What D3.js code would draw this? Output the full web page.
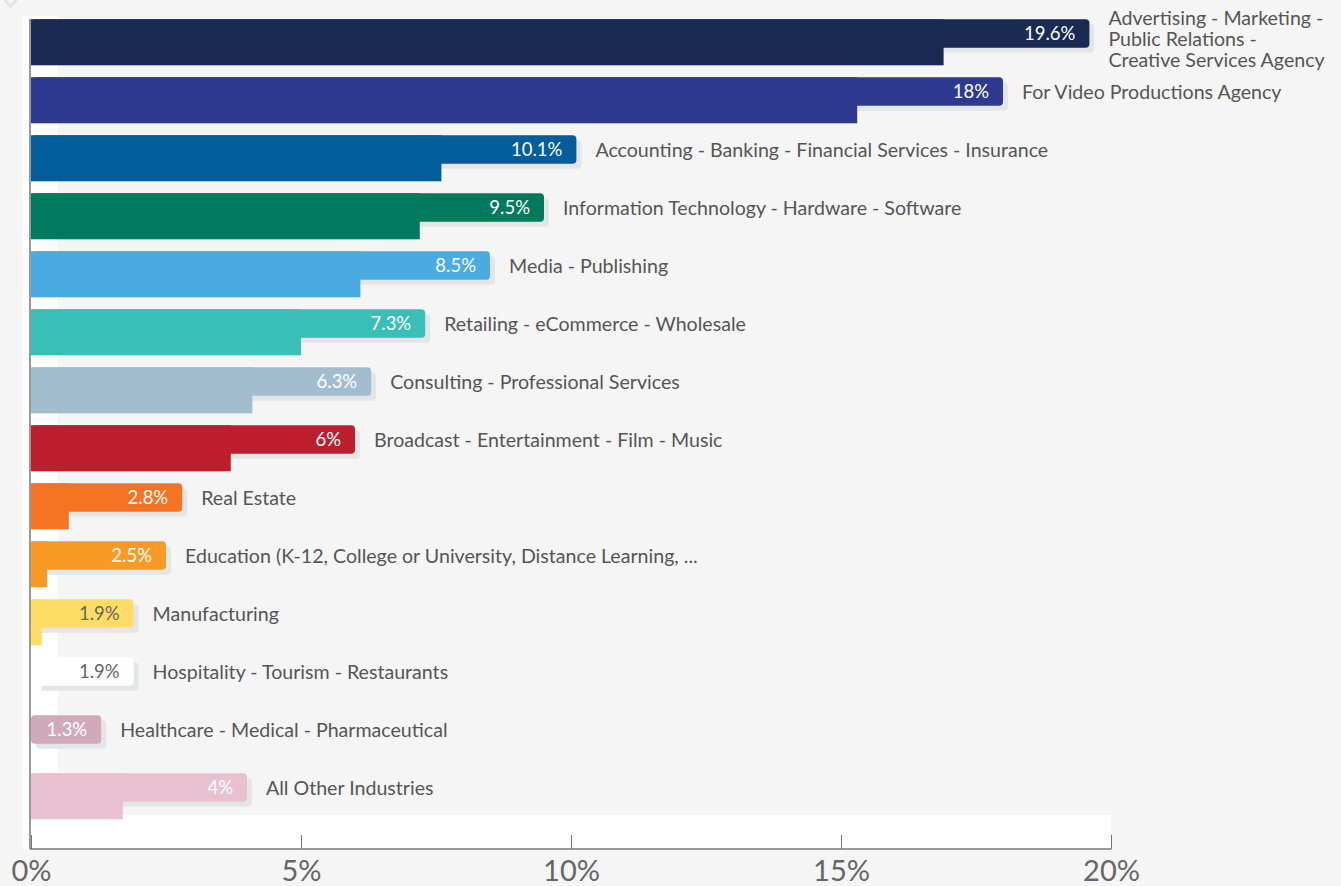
<!DOCTYPE html>
<html>
<head>
<meta charset="utf-8">
<script src="https://cdn.jsdelivr.net/npm/d3@7"></script>
<style>
  html, body { margin: 0; padding: 0; background: #f5f5f5; }
  svg { display: block; font-family: Lato, "Noto Sans", sans-serif; }
</style>
</head>
<body>
<svg id="chart" width="1341" height="886"></svg>
<script>
// Industry breakdown: labelled share (pill) and base share (wide bar) per industry
const categories = [
  "Advertising - Marketing - Public Relations - Creative Services Agency",
  "For Video Productions Agency",
  "Accounting - Banking - Financial Services - Insurance",
  "Information Technology - Hardware - Software",
  "Media - Publishing",
  "Retailing - eCommerce - Wholesale",
  "Consulting - Professional Services",
  "Broadcast - Entertainment - Film - Music",
  "Real Estate",
  "Education (K-12, College or University, Distance Learning, ...",
  "Manufacturing",
  "Hospitality - Tourism - Restaurants",
  "Healthcare - Medical - Pharmaceutical",
  "All Other Industries"
];
const shareValues = [19.6, 18, 10.1, 9.5, 8.5, 7.3, 6.3, 6, 2.8, 2.5, 1.9, 1.9, 1.3, 4];
const baseValues  = [16.9, 15.3, 7.6, 7.2, 6.1, 5.0, 4.1, 3.7, 0.7, 0.3, 0.2, 0.2, 0, 1.7];
const xTickValues = [0, 5, 10, 15, 20];

const palette = [
  "#1b2a52", "#2d3a8f", "#035d9b", "#007a5f", "#4aabe1", "#38bfb8", "#a3bdd0",
  "#bd1e2d", "#f47423", "#f99a25", "#ffdd65", "#ffffff", "#d0a9ba", "#e9c0cf"
];

const rows = categories.map((c, i) => ({
  name: c, share: shareValues[i], base: baseValues[i], color: palette[i]
}));

const svg = d3.select("#chart");
const W = 1341;

const x = d3.scaleLinear().domain([0, 20]).range([31, 1111]);
const y = d3.scaleBand()
  .domain(categories)
  .range([19.3, 819.3])
  .paddingInner(12 / 58)
  .paddingOuter(0);

const axisY = 849;
const pillRatio = 0.62;

// small chevron in the corner
svg.append("path")
  .attr("d", "M4,-1 L10.5,6.5 L17,-1")
  .attr("fill", "none")
  .attr("stroke", "#e2e2e2")
  .attr("stroke-width", 2.5);

// plot backgrounds
svg.append("rect").attr("x", 23).attr("y", 16).attr("width", 1111 - 23).attr("height", 850 - 16).attr("fill", "#ffffff");
svg.append("rect").attr("x", 58).attr("y", 16).attr("width", 1111 - 58).attr("height", 815 - 16).attr("fill", "#f5f5f5");

const g = svg.append("g");
const row = g.selectAll("g.row").data(rows).join("g").attr("class", "row");

// pill shadow
row.append("rect")
  .attr("x", x(0) + 5)
  .attr("y", d => y(d.name) + 5)
  .attr("width", d => x(d.share) - x(0))
  .attr("height", y.bandwidth() * pillRatio)
  .attr("rx", 4)
  .attr("fill", "#e4e5e7");

// base bars (full band height), drawn over the shadow
row.append("rect")
  .attr("x", x(0))
  .attr("y", d => y(d.name))
  .attr("width", d => x(d.base) - x(0))
  .attr("height", y.bandwidth())
  .attr("fill", d => d.color);

// pills
row.append("rect")
  .attr("x", x(0))
  .attr("y", d => y(d.name))
  .attr("width", d => x(d.share) - x(0))
  .attr("height", y.bandwidth() * pillRatio)
  .attr("rx", 4)
  .attr("fill", d => d.color);

// pill value labels
row.append("text")
  .attr("x", d => x(d.share) - 14)
  .attr("y", d => y(d.name) + y.bandwidth() * pillRatio / 2 + 6.6)
  .attr("text-anchor", "end")
  .attr("font-size", 18.5)
  .attr("fill", d => d3.hcl(d.color).l > 85 ? "#666666" : "#ffffff")
  .text(d => d3.format("~g")(d.share) + "%");

// category labels, wrapped to the space on the right
const fs = 19.6, lineH = 21;
row.each(function(d) {
  const lx = x(d.share) + 19;
  const maxW = W - 14 - lx;
  const cy = y(d.name) + y.bandwidth() * pillRatio / 2;
  const t = d3.select(this).append("text")
    .attr("font-size", fs)
    .attr("fill", "#555555");
  const words = d.name.split(" ");
  const lines = [];
  let cur = [];
  const probe = t.append("tspan");
  words.forEach(w => {
    const test = cur.concat([w]).join(" ");
    probe.text(test);
    if (probe.node().getComputedTextLength() > maxW && cur.length) {
      lines.push(cur.join(" "));
      cur = [w];
    } else {
      cur.push(w);
    }
  });
  if (cur.length) lines.push(cur.join(" "));
  probe.remove();
  const firstCenter = lines.length > 1 ? cy - 15.5 : cy;
  lines.forEach((ln, i) => {
    t.append("tspan")
      .attr("x", lx)
      .attr("y", firstCenter + i * lineH + fs * 0.36)
      .text(ln);
  });
});

// axes
svg.append("line")
  .attr("x1", 30).attr("x2", 30)
  .attr("y1", 19).attr("y2", axisY)
  .attr("stroke", "#777").attr("stroke-width", 1.5);

const xAxis = d3.axisBottom(x)
  .tickValues(xTickValues)
  .tickFormat(d => d + "%")
  .tickSizeInner(-14)
  .tickSizeOuter(0)
  .tickPadding(11);

const ax = svg.append("g").attr("transform", `translate(0,${axisY})`).call(xAxis);
ax.select(".domain").attr("stroke", "#777").attr("stroke-width", 1.5).attr("d", `M30,0H${x(20)}`);
ax.selectAll(".tick line").attr("stroke", "#777").attr("stroke-width", 1);
ax.selectAll(".tick text")
  .attr("font-family", "Lato, 'Noto Sans', sans-serif")
  .attr("font-size", 29)
  .attr("fill", "#666");
</script>
</body>
</html>
